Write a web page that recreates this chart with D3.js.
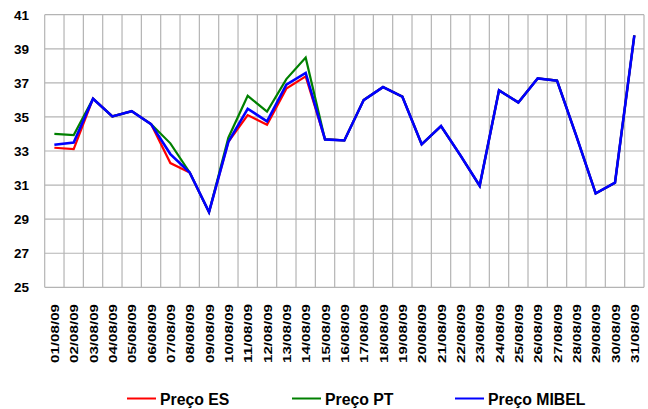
<!DOCTYPE html>
<html><head><meta charset="utf-8">
<script src="https://cdn.jsdelivr.net/npm/d3@7"></script>
<style>body{margin:0;background:#fff}svg{display:block}text{font-family:"Liberation Sans",Arial,sans-serif;font-weight:bold;fill:#000}</style>
</head><body><svg id="c" width="648" height="409"></svg>
<script>
const dates = ["01/08/09","02/08/09","03/08/09","04/08/09","05/08/09","06/08/09","07/08/09","08/08/09","09/08/09","10/08/09","11/08/09","12/08/09","13/08/09","14/08/09","15/08/09","16/08/09","17/08/09","18/08/09","19/08/09","20/08/09","21/08/09","22/08/09","23/08/09","24/08/09","25/08/09","26/08/09","27/08/09","28/08/09","29/08/09","30/08/09","31/08/09"];
const precoES    = [33.19,33.11,36.07,35.03,35.34,34.58,32.29,31.74,29.41,33.54,35.11,34.54,36.66,37.38,33.68,33.62,35.99,36.75,36.19,33.39,34.46,32.75,30.96,36.56,35.85,37.26,37.13,33.88,30.51,31.14,39.79];
const precoPT    = [34.01,33.94,36.07,35.03,35.34,34.58,33.45,31.74,29.41,33.78,36.24,35.31,37.22,38.48,33.68,33.62,35.99,36.75,36.19,33.39,34.46,32.75,30.96,36.56,35.85,37.26,37.13,33.88,30.51,31.14,39.79];
const precoMIBEL = [33.37,33.50,36.07,35.03,35.34,34.58,32.82,31.74,29.41,33.54,35.48,34.74,36.89,37.58,33.68,33.62,35.99,36.75,36.19,33.39,34.46,32.75,30.96,36.56,35.85,37.26,37.13,33.88,30.51,31.14,39.79];
const yTicks = [25,27,29,31,33,35,37,39,41];
const seriesNames = ["Preço ES","Preço PT","Preço MIBEL"];
const seriesColors = ["#ff0000","#008000","#0000ff"];
const series = [precoES, precoPT, precoMIBEL];

const svg = d3.select("#c");
const L = 44.7, R = 644, T = 14.7, B = 287.3;
const x = d3.scaleBand().domain(dates).range([L, R]);
const y = d3.scaleLinear().domain([25, 41]).range([B, T]);
const grid = "#b4b4b4";

// horizontal gridlines
svg.append("g").selectAll("line").data(yTicks).join("line")
  .attr("x1", L).attr("x2", R).attr("y1", d => y(d)).attr("y2", d => y(d))
  .attr("stroke", grid).attr("stroke-width", 1.2);
// vertical gridlines at category boundaries
const bounds = dates.map(d => x(d)).concat([R]);
svg.append("g").selectAll("line").data(bounds).join("line")
  .attr("x1", d => d).attr("x2", d => d).attr("y1", T).attr("y2", B)
  .attr("stroke", grid).attr("stroke-width", 1.2);

// y labels
svg.append("g").selectAll("text").data(yTicks).join("text")
  .attr("x", 29).attr("y", d => y(d)).attr("dy", "0.36em")
  .attr("text-anchor", "end").attr("font-size", 13.5).text(d => d);

// x labels
svg.append("g").selectAll("text").data(dates).join("text")
  .attr("transform", d => `translate(${x(d) + x.bandwidth()/2 + 0.5},304) rotate(-90)`)
  .attr("text-anchor", "end").attr("dy", "0.36em")
  .attr("font-size", 11.6)
  .attr("textLength", 59).attr("lengthAdjust", "spacingAndGlyphs")
  .text(d => d);

// lines
const line = d3.line().x((v, i) => x(dates[i]) + x.bandwidth()/2).y(v => y(v));
series.forEach((s, k) => {
  svg.append("path").datum(s).attr("d", line)
    .attr("fill", "none").attr("stroke", seriesColors[k])
    .attr("stroke-width", k === 2 ? 2.6 : 2.2).attr("stroke-linejoin", "miter");
});

// legend
const legX = [127, 292, 455];
const lg = svg.append("g").selectAll("g").data(seriesNames).join("g")
  .attr("transform", (d, i) => `translate(${legX[i]},398.5)`);
lg.append("line").attr("x1", 0).attr("x2", 29).attr("y1", 0).attr("y2", 0)
  .attr("stroke", (d, i) => seriesColors[i]).attr("stroke-width", 2);
lg.append("text").attr("x", 33).attr("y", 6.5).attr("font-size", 15.8).text(d => d);
</script></body></html>
